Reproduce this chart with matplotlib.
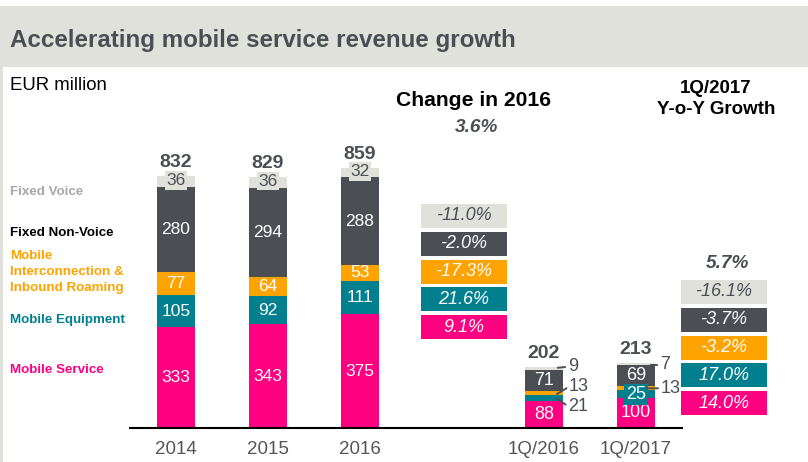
import matplotlib.pyplot as plt
from matplotlib.patches import Rectangle

plt.rcParams['font.family'] = ['Liberation Sans', 'DejaVu Sans']

# data
periods = ['2014', '2015', '2016', '1Q/2016', '1Q/2017']
xpos = [0, 1, 2, 4, 5]
mobile_service = [333, 343, 375, 88, 100]
mobile_equipment = [105, 92, 111, 21, 25]
mobile_interconn = [77, 64, 53, 13, 13]
fixed_non_voice = [280, 294, 288, 71, 69]
fixed_voice = [36, 36, 32, 9, 7]
totals = [832, 829, 859, 202, 213]

change_2016 = [-11.0, -2.0, -17.3, 21.6, 9.1]   # fixed voice ... mobile service
change_2016_total = 3.6
yoy_1q2017 = [-16.1, -3.7, -3.2, 17.0, 14.0]
yoy_total = 5.7

PINK = '#ff0080'
TEAL = '#00808f'
ORANGE = '#ffa300'
DARK = '#4b4f54'
LIGHT = '#e1e1dc'
TXT = '#4b4f54'

W, H = 808, 462
fig = plt.figure(figsize=(W / 100, H / 100), dpi=100)


def fx(x):
    return x / W


def fy(y):
    return 1 - y / H


# header band and left border
fig.patches.append(Rectangle((0, fy(67)), 1, fy(6) - fy(67), transform=fig.transFigure,
                             facecolor=LIGHT, edgecolor='none'))
fig.patches.append(Rectangle((0, 0), fx(3), fy(67), transform=fig.transFigure,
                             facecolor=LIGHT, edgecolor='none'))
fig.text(fx(10), fy(40), 'Accelerating mobile service revenue growth', fontsize=17.4,
         fontweight='bold', color=TXT, va='center')
fig.text(fx(10), fy(86), 'EUR million', fontsize=13.4, color='black', va='center')

# bar axes: baseline at y=428px, 0.303 px per EUR million
ax = fig.add_axes([fx(130), fy(428), fx(682) - fx(130), 300 / H])
ax.set_xlim(-0.5, 5.5)
ax.set_ylim(0, 300 / 0.303)
for s in ['top', 'right', 'left']:
    ax.spines[s].set_visible(False)
ax.spines['bottom'].set_linewidth(1.5)
ax.set_yticks([])
ax.set_xticks(xpos)
ax.set_xticklabels(periods, fontsize=13.5, color='#555555')
ax.tick_params(axis='x', length=0, pad=9)

bw = 0.42
series = [mobile_service, mobile_equipment, mobile_interconn, fixed_non_voice, fixed_voice]
colors = [PINK, TEAL, ORANGE, DARK, LIGHT]
bottoms = [0] * len(xpos)
for vals, c in zip(series, colors):
    ax.bar(xpos, vals, bw, bottom=bottoms, color=c, edgecolor='none')
    bottoms = [b + v for b, v in zip(bottoms, vals)]

# labels on annual bars
for i in range(3):
    b = 0
    for k, (vals, c) in enumerate(zip(series, colors)):
        v = vals[i]
        if k == 4:
            ax.text(xpos[i], b + v / 2 + 4, str(v), ha='center', va='center', fontsize=12.5,
                    color=TXT, bbox=dict(facecolor=LIGHT, edgecolor='none', pad=1.2))
        else:
            ax.text(xpos[i], b + v / 2, str(v), ha='center', va='center', fontsize=12.5,
                    color='white')
        b += v
for i in range(5):
    ax.text(xpos[i], totals[i] + 45, str(totals[i]), ha='center', va='center',
            fontsize=14, fontweight='bold', color=TXT)

# labels on quarterly bars
for i in (3, 4):
    ms, me, mi, fn, fv = (s[i] for s in series)
    ax.text(xpos[i], ms / 2, str(ms), ha='center', va='center', fontsize=13, color='white')
    ax.text(xpos[i], ms + me + mi + fn / 2, str(fn), ha='center', va='center',
            fontsize=13, color='white')


def side_label(val, xy, xytext):
    # short leader line from inside the bar to a label just right of it
    ax.annotate(str(val), xy=xy, xytext=xytext, fontsize=13, color=TXT, va='center',
                arrowprops=dict(arrowstyle='-', color=TXT, lw=1.4, shrinkA=2, shrinkB=0,
                                relpos=(0, 0.5), patchA=None))


q = 3
xr = xpos[q] + bw / 2
side_label(fixed_voice[q], (xr - 0.06, totals[q] - 3), (xr + 0.05, totals[q]))
side_label(mobile_interconn[q], (xr - 0.07, 112), (xr + 0.06, 136))
side_label(mobile_equipment[q], (xr - 0.07, 97), (xr + 0.05, 72))
q = 4
xr = xpos[q] + bw / 2
ax.text(xpos[q], mobile_service[q] + mobile_equipment[q] / 2 - 2, str(mobile_equipment[q]),
        ha='center', va='center', fontsize=13, color='white',
        bbox=dict(facecolor=TEAL, edgecolor='none', pad=1.2))
side_label(fixed_voice[q], (xr - 0.05, 208), (xr + 0.05, 208))
side_label(mobile_interconn[q], (xr - 0.09, 131), (xr + 0.06, 131))

# left legend labels
leg = [('Fixed Voice', '#a8a8a8', 192), ('Fixed Non-Voice', 'black', 233),
       ('Mobile\nInterconnection &\nInbound Roaming', ORANGE, 272),
       ('Mobile Equipment', TEAL, 320), ('Mobile Service', PINK, 370)]
for name, c, y in leg:
    fig.text(fx(10), fy(y), name, fontsize=9.6, fontweight='bold', color=c, va='center',
             linespacing=1.45)

# growth boxes
box_colors = [LIGHT, DARK, ORANGE, TEAL, PINK]
box_text = [TXT, 'white', 'white', 'white', 'white']


def growth_column(vals, total, x0, tops, total_x, total_y):
    fig.text(fx(total_x), fy(total_y), f'{total:.1f}%', fontsize=13.7, fontweight='bold',
             style='italic', color=TXT, ha='center', va='center')
    for v, c, tc, t in zip(vals, box_colors, box_text, tops):
        fig.patches.append(Rectangle((fx(x0), fy(t + 24)), fx(86), 24 / H,
                                     transform=fig.transFigure, facecolor=c, edgecolor='none'))
        fig.text(fx(x0 + 43), fy(t + 12), f'{v:.1f}%', fontsize=13, style='italic',
                 color=tc, ha='center', va='center')


growth_column(change_2016, change_2016_total, 421, [204, 232, 260, 287, 315], 477, 128)
growth_column(yoy_1q2017, yoy_total, 681, [280, 308, 336, 363, 391], 727, 264)

fig.text(fx(474), fy(100), 'Change in 2016', fontsize=15.2, fontweight='bold', color='black',
         ha='center', va='center')
fig.text(fx(716), fy(99), '1Q/2017\nY-o-Y Growth', fontsize=13.5, fontweight='bold',
         color='black', ha='center', va='center', linespacing=1.3)

fig.savefig('out.png', dpi=100)
